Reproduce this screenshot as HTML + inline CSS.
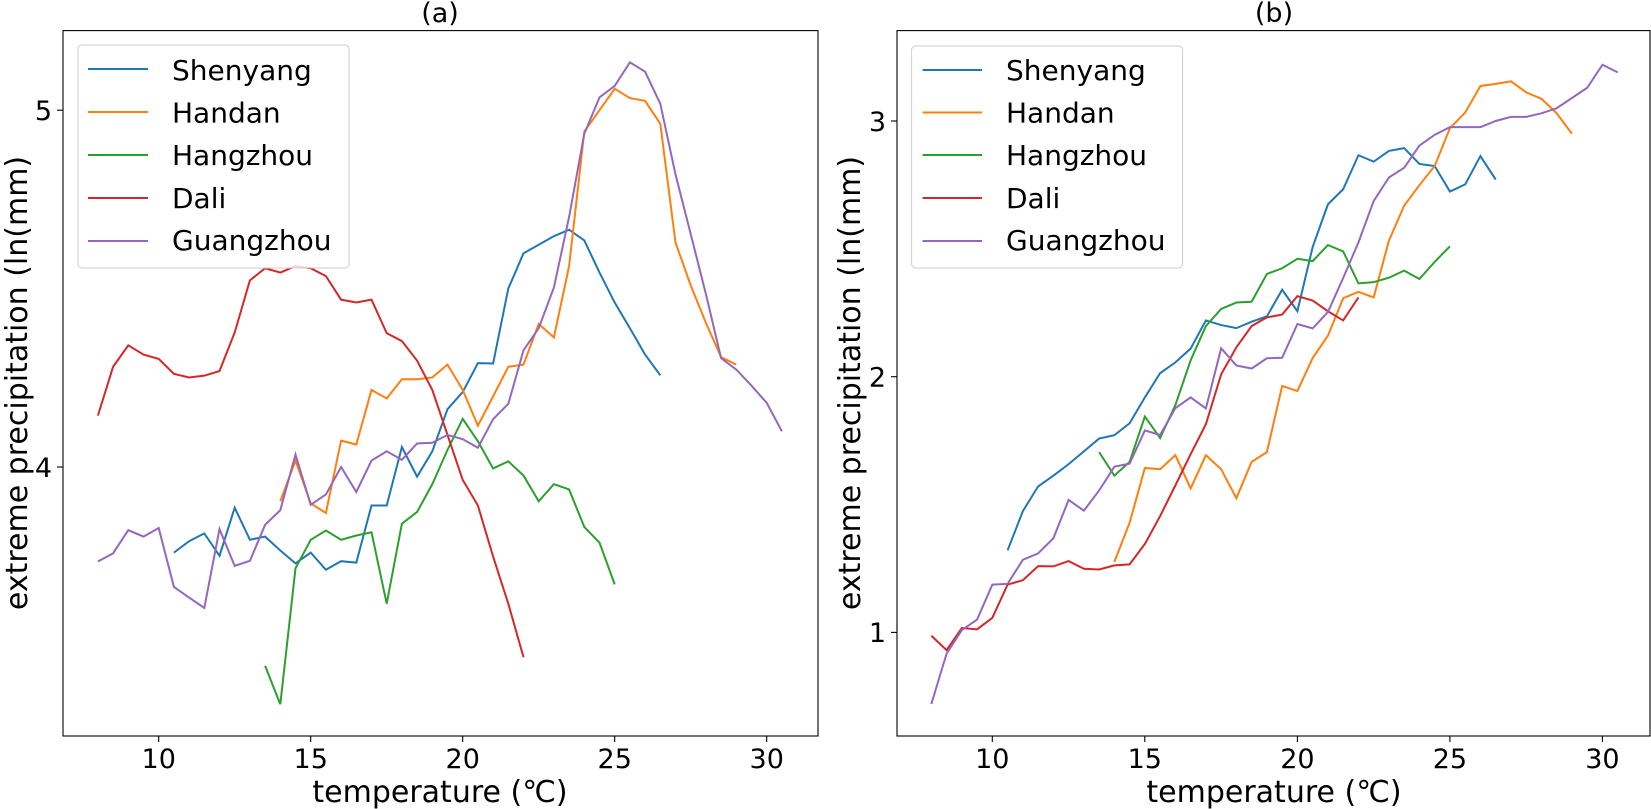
<!DOCTYPE html>
<html><head><meta charset="utf-8"><style>
html,body{margin:0;padding:0;background:#fff;}
svg{display:block;}
text{font-family:"DejaVu Sans","Liberation Sans",sans-serif;fill:#000;}
.t{font-size:27px;}
.l{font-size:28px;}
.h{font-size:27px;}
.a{font-size:30px;}
</style></head><body>
<svg width="1651" height="809" viewBox="0 0 1651 809" xmlns="http://www.w3.org/2000/svg">
<rect width="1651" height="809" fill="#fff"/>
<!-- LEFT PANEL -->
<text x="440" y="22" class="h" text-anchor="middle">(a)</text>
<g fill="none" transform="matrix(30.4 0 0 -356.8 -145.3 1894.2)">
<polyline vector-effect="non-scaling-stroke" stroke="#1f77b4" stroke-width="2" points="10.5,3.76 11,3.792 11.5,3.814 12,3.751 12.5,3.886 13,3.796 13.5,3.805 14,3.766 14.5,3.73 15,3.76 15.5,3.712 16,3.736 16.5,3.732 17,3.892 17.5,3.892 18,4.056 18.5,3.973 19,4.044 19.5,4.162 20,4.21 20.5,4.291 21,4.29 21.5,4.5 22,4.599 22.5,4.623 23,4.647 23.5,4.665 24,4.635 24.5,4.545 25,4.461 25.5,4.389 26,4.315 26.5,4.257"/>
<polyline vector-effect="non-scaling-stroke" stroke="#ff7f0e" stroke-width="2" points="14,3.904 14.5,4.018 15,3.898 15.5,3.871 16,4.074 16.5,4.063 17,4.216 17.5,4.192 18,4.246 18.5,4.246 19,4.251 19.5,4.287 20,4.216 20.5,4.116 21,4.198 21.5,4.281 22,4.287 22.5,4.401 23,4.363 23.5,4.563 24,4.94 24.5,5.0 25,5.06 25.5,5.034 26,5.026 26.5,4.962 27,4.629 27.5,4.509 28,4.404 28.5,4.308 29,4.287"/>
<polyline vector-effect="non-scaling-stroke" stroke="#2ca02c" stroke-width="2" points="13.5,3.443 14,3.335 14.5,3.716 15,3.796 15.5,3.822 16,3.796 16.5,3.808 17,3.817 17.5,3.617 18,3.841 18.5,3.874 19,3.952 19.5,4.048 20,4.135 20.5,4.072 21,3.996 21.5,4.016 22,3.976 22.5,3.904 23,3.952 23.5,3.937 24,3.832 24.5,3.788 25,3.671"/>
<polyline vector-effect="non-scaling-stroke" stroke="#d62728" stroke-width="2" points="8,4.144 8.5,4.281 9,4.341 9.5,4.315 10,4.303 10.5,4.261 11,4.251 11.5,4.256 12,4.269 12.5,4.377 13,4.523 13.5,4.557 14,4.545 14.5,4.563 15,4.557 15.5,4.535 16,4.469 16.5,4.461 17,4.469 17.5,4.375 18,4.353 18.5,4.298 19,4.216 19.5,4.09 20,3.964 20.5,3.892 21,3.749 21.5,3.617 22,3.467"/>
<polyline vector-effect="non-scaling-stroke" stroke="#9467bd" stroke-width="2" points="8,3.735 8.5,3.758 9,3.823 9.5,3.805 10,3.829 10.5,3.664 11,3.634 11.5,3.605 12,3.826 12.5,3.723 13,3.737 13.5,3.838 14,3.879 14.5,4.035 15,3.894 15.5,3.923 16,4.0 16.5,3.93 17,4.018 17.5,4.044 18,4.02 18.5,4.066 19,4.068 19.5,4.09 20,4.078 20.5,4.054 21,4.134 21.5,4.177 22,4.327 22.5,4.389 23,4.503 23.5,4.701 24,4.934 24.5,5.036 25,5.068 25.5,5.134 26,5.108 26.5,5.018 27,4.82 27.5,4.653 28,4.485 28.5,4.305 29,4.273 29.5,4.228 30,4.18 30.5,4.10"/>
</g>
<rect x="63" y="30.6" width="755" height="705.4" fill="none" stroke="#000" stroke-width="1.1"/>
<g stroke="#000" stroke-width="1.1">
<line x1="158.7" y1="736" x2="158.7" y2="742"/><line x1="310.7" y1="736" x2="310.7" y2="742"/><line x1="462.7" y1="736" x2="462.7" y2="742"/><line x1="614.7" y1="736" x2="614.7" y2="742"/><line x1="766.7" y1="736" x2="766.7" y2="742"/>
<line x1="57" y1="467" x2="63" y2="467"/><line x1="57" y1="110.2" x2="63" y2="110.2"/>
</g>
<g class="t" text-anchor="middle">
<text x="158.7" y="768">10</text><text x="310.7" y="768">15</text><text x="462.7" y="768">20</text><text x="614.7" y="768">25</text><text x="766.7" y="768">30</text>
</g>
<text x="52" y="477" class="t" text-anchor="end">4</text>
<text x="52" y="120" class="t" text-anchor="end">5</text>
<text x="440" y="802" class="a" text-anchor="middle">temperature (℃)</text>
<text transform="translate(27,383) rotate(-90)" class="a" text-anchor="middle">extreme precipitation (ln(mm)</text>
<rect x="78" y="45" width="271" height="223" rx="4" fill="#fff" fill-opacity="0.8" stroke="#ccc" stroke-width="1"/>
<g stroke-width="2">
<line x1="88" y1="69" x2="148" y2="69" stroke="#1f77b4"/>
<line x1="88" y1="112" x2="148" y2="112" stroke="#ff7f0e"/>
<line x1="88" y1="155" x2="148" y2="155" stroke="#2ca02c"/>
<line x1="88" y1="198" x2="148" y2="198" stroke="#d62728"/>
<line x1="88" y1="241" x2="148" y2="241" stroke="#9467bd"/>
</g>
<g class="l">
<text x="172" y="80">Shenyang</text><text x="172" y="122.7">Handan</text><text x="172" y="165">Hangzhou</text><text x="172" y="208">Dali</text><text x="172" y="250">Guangzhou</text>
</g>

<!-- RIGHT PANEL -->
<text x="1274" y="22" class="h" text-anchor="middle">(b)</text>
<g fill="none" transform="matrix(30.505 0 0 -255.7 687.3 888.1)">
<polyline vector-effect="non-scaling-stroke" stroke="#1f77b4" stroke-width="2" points="10.5,1.321 11,1.474 11.5,1.571 12,1.613 12.5,1.658 13,1.708 13.5,1.758 14,1.771 14.5,1.818 15,1.919 15.5,2.014 16,2.056 16.5,2.11 17,2.22 17.5,2.202 18,2.19 18.5,2.215 19,2.236 19.5,2.34 20,2.256 20.5,2.507 21,2.674 21.5,2.733 22,2.866 22.5,2.841 23,2.883 23.5,2.894 24,2.832 24.5,2.824 25,2.724 25.5,2.752 26,2.863 26.5,2.771"/>
<polyline vector-effect="non-scaling-stroke" stroke="#ff7f0e" stroke-width="2" points="14,1.276 14.5,1.429 15,1.643 15.5,1.638 16,1.693 16.5,1.563 17,1.693 17.5,1.638 18,1.525 18.5,1.667 19,1.705 19.5,1.964 20,1.944 20.5,2.073 21,2.16 21.5,2.307 22,2.332 22.5,2.31 23,2.532 23.5,2.669 24,2.749 24.5,2.824 25,2.972 25.5,3.033 26,3.137 26.5,3.145 27,3.155 27.5,3.112 28,3.087 28.5,3.03 29,2.95"/>
<polyline vector-effect="non-scaling-stroke" stroke="#2ca02c" stroke-width="2" points="13.5,1.705 14,1.613 14.5,1.667 15,1.844 15.5,1.76 16,1.889 16.5,2.064 17,2.198 17.5,2.265 18,2.29 18.5,2.293 19,2.402 19.5,2.424 20,2.461 20.5,2.452 21,2.515 21.5,2.49 22,2.365 22.5,2.37 23,2.387 23.5,2.415 24,2.382 24.5,2.449 25,2.51"/>
<polyline vector-effect="non-scaling-stroke" stroke="#d62728" stroke-width="2" points="8,0.987 8.5,0.931 9,1.017 9.5,1.012 10,1.057 10.5,1.187 11,1.204 11.5,1.259 12,1.258 12.5,1.279 13,1.249 13.5,1.246 14,1.262 14.5,1.266 15,1.346 15.5,1.455 16,1.575 16.5,1.697 17,1.814 17.5,2.009 18,2.115 18.5,2.198 19,2.232 19.5,2.243 20,2.315 20.5,2.298 21,2.256 21.5,2.22 22,2.31"/>
<polyline vector-effect="non-scaling-stroke" stroke="#9467bd" stroke-width="2" points="8,0.72 8.5,0.917 9,1.009 9.5,1.05 10,1.187 10.5,1.19 11,1.284 11.5,1.309 12,1.368 12.5,1.518 13,1.476 13.5,1.555 14,1.648 14.5,1.66 15,1.79 15.5,1.772 16,1.877 16.5,1.919 17,1.876 17.5,2.111 18,2.044 18.5,2.032 19,2.072 19.5,2.074 20,2.206 20.5,2.189 21,2.253 21.5,2.386 22,2.525 22.5,2.687 23,2.779 23.5,2.817 24,2.904 24.5,2.946 25,2.976 25.5,2.976 26,2.976 26.5,3.0 27,3.016 27.5,3.016 28,3.03 28.5,3.05 29,3.09 29.5,3.13 30,3.22 30.5,3.19"/>
</g>
<rect x="897" y="30.6" width="753" height="705.4" fill="none" stroke="#000" stroke-width="1.1"/>
<g stroke="#000" stroke-width="1.1">
<line x1="992.3" y1="736" x2="992.3" y2="742"/><line x1="1144.8" y1="736" x2="1144.8" y2="742"/><line x1="1297.4" y1="736" x2="1297.4" y2="742"/><line x1="1449.9" y1="736" x2="1449.9" y2="742"/><line x1="1602.4" y1="736" x2="1602.4" y2="742"/>
<line x1="891" y1="632.4" x2="897" y2="632.4"/><line x1="891" y1="376.7" x2="897" y2="376.7"/><line x1="891" y1="121" x2="897" y2="121"/>
</g>
<g class="t" text-anchor="middle">
<text x="992.3" y="768">10</text><text x="1144.8" y="768">15</text><text x="1297.4" y="768">20</text><text x="1449.9" y="768">25</text><text x="1602.4" y="768">30</text>
</g>
<text x="886" y="642" class="t" text-anchor="end">1</text>
<text x="886" y="386.5" class="t" text-anchor="end">2</text>
<text x="886" y="131" class="t" text-anchor="end">3</text>
<text x="1274" y="802" class="a" text-anchor="middle">temperature (℃)</text>
<text transform="translate(860,383) rotate(-90)" class="a" text-anchor="middle">extreme precipitation (ln(mm)</text>
<rect x="911.6" y="46" width="271" height="222" rx="4" fill="#fff" fill-opacity="0.8" stroke="#ccc" stroke-width="1"/>
<g stroke-width="2">
<line x1="922.6" y1="70" x2="982" y2="70" stroke="#1f77b4"/>
<line x1="922.6" y1="112.5" x2="982" y2="112.5" stroke="#ff7f0e"/>
<line x1="922.6" y1="155" x2="982" y2="155" stroke="#2ca02c"/>
<line x1="922.6" y1="198" x2="982" y2="198" stroke="#d62728"/>
<line x1="922.6" y1="241" x2="982" y2="241" stroke="#9467bd"/>
</g>
<g class="l">
<text x="1006" y="80">Shenyang</text><text x="1006" y="122.7">Handan</text><text x="1006" y="165">Hangzhou</text><text x="1006" y="208">Dali</text><text x="1006" y="250">Guangzhou</text>
</g>
</svg>
</body></html>
